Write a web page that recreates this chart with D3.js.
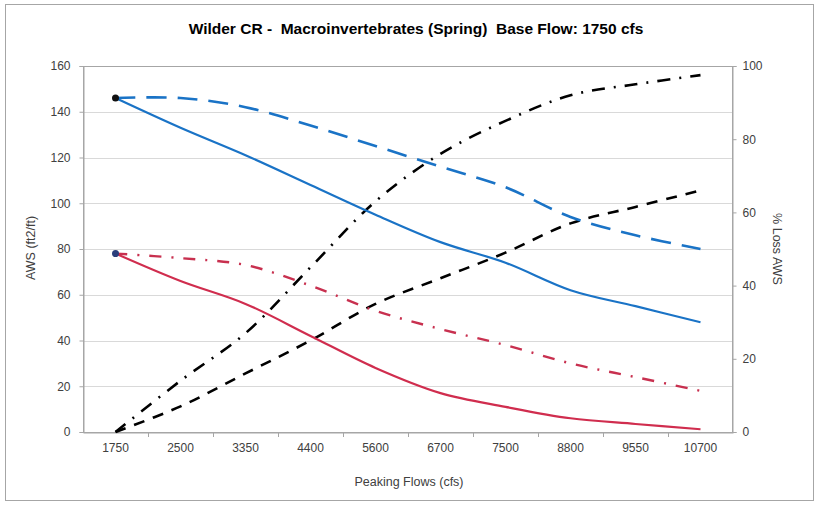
<!DOCTYPE html>
<html>
<head>
<meta charset="utf-8">
<script src="https://cdn.jsdelivr.net/npm/d3@7"></script>
<style>
  html, body { margin: 0; padding: 0; background: #fff; }
  svg { display: block; font-family: "Liberation Sans", Arial, sans-serif; }
</style>
</head>
<body>
<svg id="chart" width="818" height="505"></svg>
<script>
const categories = ["1750","2500","3350","4400","5600","6700","7500","8800","9550","10700"];
const awsBlueSolid  = [146,133,121,108,95,83,74,62,55,48];
const awsBlueDashed = [146,146,142,134,125,116,107,94,86,80];
const awsRedSolid   = [78,66,56,42,28,17,11,6,3.5,1.2];
const awsRedDashDot = [78,76,73,64,53,45,38,30,24,18];
const lossDashDot   = [0,14,27,45,63,76,85,92,95,97.5];
const lossDashed    = [0,7,16,25,35,42,49,57,61.5,66];
const leftTicks  = [0,20,40,60,80,100,120,140,160];
const rightTicks = [0,20,40,60,80,100];

const svg = d3.select("#chart");
const L = 83, R = 733, T = 66, B = 432;

svg.append("rect").attr("x",5.5).attr("y",4.5).attr("width",808).attr("height",496)
  .attr("fill","#fff").attr("stroke","#a6a6a6").attr("stroke-width",1);

const x = d3.scaleBand().domain(categories).range([L,R]).padding(0);
const xc = d => x(d) + x.bandwidth()/2;
const yL = d3.scaleLinear().domain([0,160]).range([B,T]);
const yR = d3.scaleLinear().domain([0,100]).range([B,T]);

// gridlines
svg.append("g").selectAll("line").data(leftTicks.filter(v=>v>0)).join("line")
  .attr("x1",L).attr("x2",R).attr("y1",d=>Math.round(yL(d))+0.5).attr("y2",d=>Math.round(yL(d))+0.5)
  .attr("stroke","#d9d9d9").attr("stroke-width",1);

// plot border
svg.append("rect").attr("x",L+0.5).attr("y",T+0.5).attr("width",R-L-1).attr("height",B-T)
  .attr("fill","none").attr("stroke","#a6a6a6");

// left axis
const axL = svg.append("g").attr("transform",`translate(${L+0.5},0)`)
  .call(d3.axisLeft(yL).tickValues(leftTicks).tickSize(4).tickPadding(9).tickFormat(d3.format("d")));
// right axis
const axR = svg.append("g").attr("transform",`translate(${R-0.5},0)`)
  .call(d3.axisRight(yR).tickValues(rightTicks).tickSize(4).tickPadding(6).tickFormat(d3.format("d")));
// bottom axis
const axB = svg.append("g").attr("transform",`translate(0,${B+0.5})`)
  .call(d3.axisBottom(x).tickSize(0).tickPadding(11));
// category boundary ticks
svg.append("g").selectAll("line").data(categories.slice(1)).join("line")
  .attr("x1",d=>Math.round(x(d))+0.5).attr("x2",d=>Math.round(x(d))+0.5)
  .attr("y1",B).attr("y2",B+5).attr("stroke","#a6a6a6");

[axL,axR,axB].forEach(g=>{
  g.select(".domain").attr("stroke","#a6a6a6");
  g.selectAll(".tick line").attr("stroke","#a6a6a6");
  g.selectAll("text").attr("fill","#404040").style("font-size","12px")
    .style("font-family","'Liberation Sans', Arial, sans-serif");
});

const line = (scale) => d3.line().x((d,i)=>xc(categories[i])).y(d=>scale(d)).curve(d3.curveCatmullRom.alpha(0.5));

const series = [
  {data: lossDashed,    scale: yR, color:"#000000", dash:"11,9",        w:2.6},
  {data: lossDashDot,   scale: yR, color:"#000000", dash:"13,9,2,9",    w:2.6},
  {data: awsRedDashDot, scale: yL, color:"#c8304f", dash:"12,10,2,10",  w:2.4},
  {data: awsRedSolid,   scale: yL, color:"#d02d4e", dash:null,          w:2.2},
  {data: awsBlueDashed, scale: yL, color:"#1a73c6", dash:"20,11",       w:2.6},
  {data: awsBlueSolid,  scale: yL, color:"#1a73c6", dash:null,          w:2.2},
];
series.forEach(s=>{
  svg.append("path").datum(s.data).attr("d",line(s.scale))
    .attr("fill","none").attr("stroke",s.color).attr("stroke-width",s.w)
    .attr("stroke-dasharray",s.dash).attr("stroke-linecap","butt");
});

// start markers
svg.append("circle").attr("cx",xc(categories[0])).attr("cy",yL(awsBlueSolid[0])).attr("r",3.5).attr("fill","#111");
svg.append("circle").attr("cx",xc(categories[0])).attr("cy",yL(awsRedSolid[0])).attr("r",3.5).attr("fill","#2b3f7c");

// titles
svg.append("text").attr("x",416).attr("y",34).attr("text-anchor","middle")
  .style("font-size","15.5px").style("font-weight","bold").attr("fill","#000")
  .attr("xml:space","preserve").style("white-space","pre")
  .text("Wilder CR -  Macroinvertebrates (Spring)  Base Flow: 1750 cfs");
svg.append("text").attr("x",409).attr("y",486).attr("text-anchor","middle")
  .style("font-size","12.5px").attr("fill","#404040").text("Peaking Flows (cfs)");
svg.append("text").attr("transform","translate(35,248) rotate(-90)").attr("text-anchor","middle")
  .style("font-size","12.5px").attr("fill","#404040").text("AWS (ft2/ft)");
svg.append("text").attr("transform","translate(773,249) rotate(90)").attr("text-anchor","middle")
  .style("font-size","12.5px").attr("fill","#404040").text("% Loss AWS");
</script>
</body>
</html>
